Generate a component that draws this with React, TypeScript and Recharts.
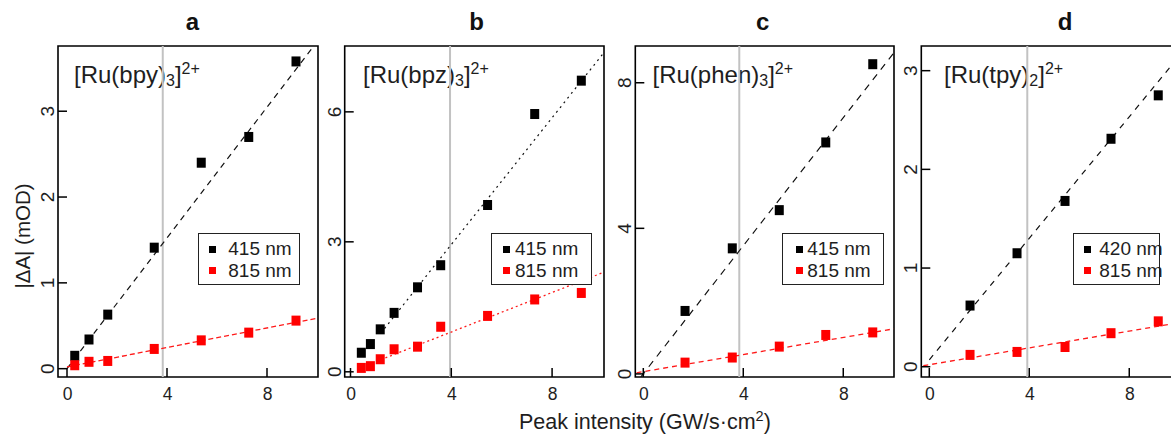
import React from 'react';
import { ScatterChart, Scatter, XAxis, YAxis, ReferenceLine, ReferenceArea, Legend } from 'recharts';

const FONT = '"Liberation Sans", Arial, Helvetica, sans-serif';
const TXT = '#1e1e1e';

// ---------- data ----------
const xTicks = [0, 4, 8];
const panelLetters = ['a', 'b', 'c', 'd'];
const complexLabels = [
  ['[Ru(bpy)', '3', ']', '2+'],
  ['[Ru(bpz)', '3', ']', '2+'],
  ['[Ru(phen)', '3', ']', '2+'],
  ['[Ru(tpy)', '2', ']', '2+'],
];
const seriesNames = [
  ['415 nm', '815 nm'],
  ['415 nm', '815 nm'],
  ['415 nm', '815 nm'],
  ['420 nm', '815 nm'],
];
const yTicksA = [0, 1, 2, 3];
const yTicksB = [0, 3, 6];
const yTicksC = [0, 4, 8];
const yTicksD = [0, 1, 2, 3];

const xA = [0.31, 0.88, 1.63, 3.49, 5.37, 7.27, 9.16];
const blueA = [0.15, 0.34, 0.63, 1.41, 2.4, 2.7, 3.58];
const nirA = [0.04, 0.08, 0.09, 0.23, 0.33, 0.42, 0.56];

const xB = [0.43, 0.79, 1.18, 1.73, 2.66, 3.58, 5.44, 7.31, 9.16];
const blueB = [0.44, 0.64, 0.98, 1.36, 1.95, 2.46, 3.85, 5.95, 6.72];
const nirB = [0.09, 0.13, 0.29, 0.52, 0.58, 1.04, 1.29, 1.67, 1.82];

const xC = [1.67, 3.56, 5.44, 7.3, 9.18];
const blueC = [1.73, 3.45, 4.5, 6.36, 8.51];
const nirC = [0.31, 0.45, 0.75, 1.07, 1.14];

const xD = [1.63, 3.51, 5.43, 7.27, 9.16];
const blueD = [0.62, 1.15, 1.68, 2.31, 2.75];
const nirD = [0.12, 0.15, 0.2, 0.34, 0.46];

// fitted lines: [x0, y0, x1, y1]
const fitBlueA = [0, 0, 9.87, 3.76];
const fitNirA = [0, 0.02, 10.04, 0.59];
const fitBlueB = [1.2, 0.89, 10.06, 7.37];
const fitNirB = [1.2, 0.28, 10.06, 2.3];
const fitBlueC = [-0.1, -0.085, 10.03, 8.83];
const fitNirC = [-0.27, 0.03, 10.03, 1.24];
const fitBlueD = [0, 0.07, 10.07, 3.17];
const fitNirD = [-0.24, 0.01, 10.07, 0.45];

// threshold (grey vertical line)
const thresholds = [3.83, 3.95, 3.84, 3.92];

const toPts = (xs: number[], ys: number[]) => xs.map((x, i) => ({ x, y: ys[i] }));

// ---------- layout ----------
const CHART_W = 1200;
const CHART_H = 436;
const TOP = 46;
const BOTTOM = 377;

const layouts = [
  { left: 58, right: 318, xDomain: [-0.36, 10.04], yDomain: [-0.097, 3.76], yTicks: yTicksA, titleX: 192.5, labelX: 74, leg: { x: 198.3, y: 233.3, w: 102, mx: 13.4, tx: 30 }, dash: ['6 5', '5 3'] },
  { left: 344.7, right: 604, xDomain: [-0.23, 10.06], yDomain: [-0.12, 7.52], yTicks: yTicksB, titleX: 476.7, labelX: 363, leg: { x: 490.7, y: 233.3, w: 101, mx: 15, tx: 24.3 }, dash: ['2 4', '2 3'] },
  { left: 635.3, right: 894, xDomain: [-0.32, 10.03], yDomain: [-0.085, 9.01], yTicks: yTicksC, titleX: 762.7, labelX: 652.5, leg: { x: 782.3, y: 233.3, w: 102, mx: 16, tx: 25 }, dash: ['7 6', '5 4'] },
  { left: 921.3, right: 1181, xDomain: [-0.32, 10.07], yDomain: [-0.104, 3.25], yTicks: yTicksD, titleX: 1065, labelX: 944, leg: { x: 1073.3, y: 233.3, w: 87, mx: 13.4, tx: 26 }, dash: ['6 6', '5 4'] },
];

const panelData = [
  { blue: toPts(xA, blueA), nir: toPts(xA, nirA), fitBlue: fitBlueA, fitNir: fitNirA },
  { blue: toPts(xB, blueB), nir: toPts(xB, nirB), fitBlue: fitBlueB, fitNir: fitNirB },
  { blue: toPts(xC, blueC), nir: toPts(xC, nirC), fitBlue: fitBlueC, fitNir: fitNirC },
  { blue: toPts(xD, blueD), nir: toPts(xD, nirD), fitBlue: fitBlueD, fitNir: fitNirD },
];

const BLACK = '#000000';
const RED = '#ff0000';

const Square = (props: any) => {
  const { cx, cy, fill } = props;
  if (cx == null || cy == null) return <g />;
  return <rect x={cx - 4.5} y={cy - 5} width={9} height={10} fill={fill} />;
};

const makeXTick = () => (props: any) => {
  const { x, payload } = props;
  return (
    <g>
      <line x1={x} x2={x} y1={BOTTOM} y2={BOTTOM - 9} stroke="#000" strokeWidth={1.5} />
      <text x={x + 0.5} y={399.5} textAnchor="middle" fontSize={17.5} fill={TXT} fontFamily={FONT}>
        {payload.value}
      </text>
    </g>
  );
};

const makeYTick = (left: number) => (props: any) => {
  const { y, payload } = props;
  const tx = left - 4;
  return (
    <g>
      <line x1={left} x2={left + 9} y1={y} y2={y} stroke="#000" strokeWidth={1.5} />
      <text x={tx} y={y} transform={`rotate(-90 ${tx} ${y})`} textAnchor="middle" fontSize={19} fill={TXT} fontFamily={FONT}>
        {payload.value}
      </text>
    </g>
  );
};

const makeLegend = (leg: any) => (props: any) => {
  const payload = (props.payload || []).filter((p: any) => p && p.value);
  return (
    <div style={{ width: leg.w, height: 52, border: '1.5px solid #222', boxSizing: 'border-box', background: '#fff', position: 'relative', fontFamily: FONT }}>
      {payload.map((p: any, i: number) => {
        const cy = i === 0 ? 15 : 36.5;
        return (
          <React.Fragment key={i}>
            <span style={{ position: 'absolute', left: leg.mx - 3.5, top: cy - 3.5, width: 7, height: 7, background: p.color }} />
            <span style={{ position: 'absolute', left: leg.tx - 1, top: cy - 11, fontSize: 19, lineHeight: '22px', color: TXT, whiteSpace: 'nowrap' }}>{p.value}</span>
          </React.Fragment>
        );
      })}
    </div>
  );
};

function Panel({ idx }: { idx: number }) {
  const L = layouts[idx];
  const D = panelData[idx];
  const lbl = complexLabels[idx];
  const names = seriesNames[idx];
  return (
    <div style={{ position: 'absolute', left: 0, top: 0 }}>
      <ScatterChart
        width={CHART_W}
        height={CHART_H}
        margin={{ top: TOP, bottom: 0, left: L.left - 40, right: CHART_W - L.right }}
      >
        <XAxis
          type="number"
          dataKey="x"
          domain={L.xDomain}
          ticks={xTicks}
          allowDataOverflow
          axisLine={false}
          tickLine={false}
          tickSize={0}
          height={CHART_H - BOTTOM}
          interval={0}
          tick={makeXTick()}
        />
        <YAxis
          type="number"
          dataKey="y"
          domain={L.yDomain}
          ticks={L.yTicks}
          allowDataOverflow
          width={40}
          axisLine={false}
          tickLine={false}
          tickSize={0}
          interval={0}
          tick={makeYTick(L.left)}
        />
        <ReferenceLine x={thresholds[idx]} stroke="#c2c2c2" strokeWidth={2} />
        <ReferenceLine
          segment={[{ x: D.fitBlue[0], y: D.fitBlue[1] }, { x: D.fitBlue[2], y: D.fitBlue[3] }]}
          stroke="#111"
          strokeWidth={1.2}
          strokeDasharray={L.dash[0]}
          ifOverflow="hidden"
        />
        <ReferenceLine
          segment={[{ x: D.fitNir[0], y: D.fitNir[1] }, { x: D.fitNir[2], y: D.fitNir[3] }]}
          stroke="#ff1a1a"
          strokeWidth={1.3}
          strokeDasharray={L.dash[1]}
          ifOverflow="hidden"
        />
        <Scatter name={names[0]} data={D.blue} fill={BLACK} shape={Square} legendType="square" isAnimationActive={false} />
        <Scatter name={names[1]} data={D.nir} fill={RED} shape={Square} legendType="square" isAnimationActive={false} />
        <ReferenceArea
          x1={L.xDomain[0]}
          x2={L.xDomain[1]}
          y1={L.yDomain[0]}
          y2={L.yDomain[1]}
          fill="none"
          fillOpacity={0}
          stroke="#000"
          strokeWidth={1.6}
          ifOverflow="visible"
        />
        <Legend
          layout="horizontal"
          verticalAlign="middle"
          align="center"
          content={makeLegend(L.leg)}
          wrapperStyle={{ position: 'absolute', left: L.leg.x, top: L.leg.y, width: L.leg.w, height: 52 }}
        />
        <text x={L.titleX} y={30} textAnchor="middle" fontSize={24} fontWeight="bold" fill="#111" fontFamily={FONT}>
          {panelLetters[idx]}
        </text>
        <text x={L.labelX} y={83} fontSize={24} fill={TXT} fontFamily={FONT}>
          {lbl[0]}
          <tspan fontSize={16} dy={3}>{lbl[1]}</tspan>
          <tspan dy={-3}>{lbl[2]}</tspan>
          <tspan fontSize={16} dy={-9}>{lbl[3]}</tspan>
        </text>
        {idx === 0 ? (
          <text x={30} y={236} transform="rotate(-90 30 236)" textAnchor="middle" fontSize={20.5} fill={TXT} fontFamily={FONT}>
            |ΔA| (mOD)
          </text>
        ) : null}
        {idx === 1 ? (
          <text x={519} y={429} fontSize={21.5} fill={TXT} fontFamily={FONT}>
            Peak intensity (GW/s·cm<tspan fontSize={14.5} dy={-8}>2</tspan>
            <tspan dy={8}>)</tspan>
          </text>
        ) : null}
      </ScatterChart>
    </div>
  );
}

export default function App() {
  return (
    <div style={{ position: 'absolute', left: 0, top: 0, width: 1171, height: 436, overflow: 'hidden', background: '#fff' }}>
      {[0, 1, 2, 3].map((i) => (
        <Panel key={i} idx={i} />
      ))}
    </div>
  );
}
